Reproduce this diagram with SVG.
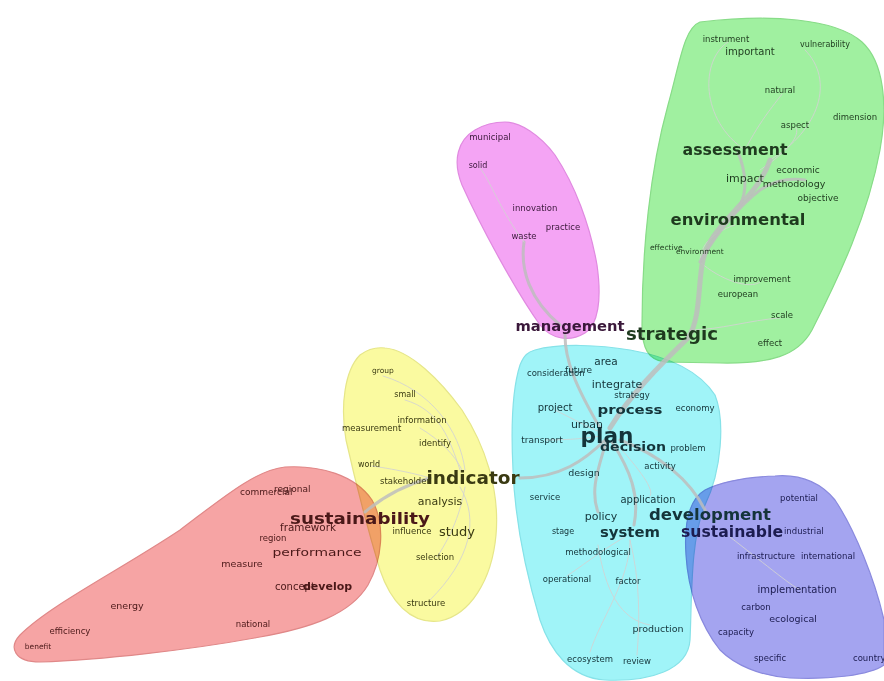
<svg xmlns="http://www.w3.org/2000/svg" width="884" height="681" viewBox="0 0 884 681">
<style>
.blob{mix-blend-mode:multiply;stroke-width:1.2}
.t{font-family:"DejaVu Sans","Liberation Sans",sans-serif;text-anchor:middle}
.st{text-anchor:start}
.en{text-anchor:end}
.b{font-weight:bold}
.g text{fill:#1e3a1e}
.mg text{fill:#3a183a}
.c text{fill:#14343a}
.p text{fill:#1c1c50}
.y text{fill:#3a3a12}
.r text{fill:#4a1818}
.e{fill:none;stroke:#bdbdbd;stroke-linecap:round;opacity:0.85}
.e1{stroke-width:1;stroke:#d2d2d2}
.e3{stroke-width:3}
.e5{stroke-width:5}
</style>
<rect width="884" height="681" fill="#ffffff"/>
<g id="blobs">
<path id="blob-green" class="blob" fill="#a0f0a0" stroke="#88dc88" d="M700,22 C770,14 835,18 862,42 C884,62 888,105 880,150 C868,215 840,275 812,330 C798,356 770,364 720,363 L665,362 C648,360 642,348 642,325 C642,250 650,170 668,105 C680,62 684,28 700,22 Z"/>
<path id="blob-magenta" class="blob" fill="#f4a4f4" stroke="#e08ae0" d="M505,122 C520,122 540,135 555,155 C575,185 590,225 597,265 C602,300 598,325 585,333 C570,342 552,340 540,325 C515,290 480,225 462,185 C452,160 458,140 475,130 C485,124 495,122 505,122 Z"/>
<path id="blob-cyan" class="blob" fill="#a0f4f8" stroke="#86e2e8" d="M535,350 C560,343 600,345 630,350 C670,357 700,372 715,395 C725,420 722,470 705,505 C690,540 692,600 690,640 C688,670 650,682 605,680 C570,678 550,650 540,620 C525,570 515,520 513,470 C511,430 512,390 520,365 C524,355 528,352 535,350 Z"/>
<path id="blob-purple" class="blob" fill="#a4a4f0" stroke="#8a8ade" d="M775,476 C800,474 820,482 835,500 C855,530 875,580 884,620 L884,665 C870,675 830,680 790,678 C760,676 735,665 720,650 C700,625 688,590 686,555 C684,525 688,500 705,490 C725,480 750,477 775,476 Z"/>
<path id="blob-yellow" class="blob" fill="#fafaa0" stroke="#e6e68a" d="M385,348 C410,350 440,380 462,410 C485,445 500,490 496,535 C492,580 470,615 440,621 C410,625 390,600 380,570 C368,530 355,480 346,440 C340,405 345,370 360,355 C368,349 376,347 385,348 Z"/>
<path id="blob-red" class="blob" fill="#f6a4a4" stroke="#e08888" d="M285,467 C320,465 355,475 372,500 C386,525 382,560 368,585 C350,615 310,628 260,637 C190,650 100,660 40,662 C15,662 8,648 20,635 C50,605 120,570 180,530 C220,500 255,470 285,467 Z"/>
</g>
<g id="connectors">
<path class="e e1" d="M745,150 C700,120 700,60 728,42"/>
<path class="e e1" d="M770,160 C820,130 835,80 805,50"/>
<path class="e e1" d="M745,150 C760,120 778,100 782,94"/>
<path class="e e1" d="M760,170 C790,150 800,135 796,128"/>
<path class="e e1" d="M700,262 C720,280 750,290 760,282"/>
<path class="e e1" d="M690,330 C720,330 750,320 780,318"/>
<path class="e e1" d="M700,262 C700,240 720,230 735,225"/>
<path class="e e5" d="M610,428 C630,395 660,365 688,338 C700,320 698,290 702,265 C706,240 722,225 740,205 C755,190 765,175 770,160"/>
<path class="e e3" d="M700,262 C715,235 740,205 760,190 C775,180 790,178 805,180"/>
<path class="e e3" d="M740,205 C748,190 745,170 738,152"/>
<path class="e e3" d="M524,242 C520,270 530,300 560,325"/>
<path class="e e1" d="M524,242 C500,210 490,180 480,168"/>
<path class="e e3" d="M565,335 C565,360 575,385 600,428"/>
<path class="e e3" d="M520,478 C560,478 585,460 605,440"/>
<path class="e e3" d="M365,512 C385,495 405,485 430,478"/>
<path class="e e1" d="M383,376 C430,390 460,430 465,470"/>
<path class="e e1" d="M405,400 C440,410 450,440 460,470"/>
<path class="e e1" d="M420,428 C440,440 455,455 462,470"/>
<path class="e e1" d="M460,487 C480,520 470,560 430,600"/>
<path class="e e1" d="M437,557 C455,530 462,505 465,487"/>
<path class="e e1" d="M372,466 C400,470 420,475 430,478"/>
<path class="e e3" d="M620,440 C660,455 690,480 705,510"/>
<path class="e e3" d="M606,442 C598,470 590,490 598,512"/>
<path class="e e3" d="M612,442 C630,470 640,495 634,525"/>
<path class="e e1" d="M615,442 C640,470 655,490 650,496"/>
<path class="e e1" d="M545,440 C570,440 590,438 600,436"/>
<path class="e e1" d="M598,545 C605,590 620,620 650,625"/>
<path class="e e1" d="M630,540 C630,580 600,620 590,652"/>
<path class="e e1" d="M630,540 C640,580 640,620 637,655"/>
<path class="e e1" d="M567,576 C590,560 610,545 625,537"/>
<path class="e e1" d="M730,537 C760,560 790,585 800,590"/>
<path class="e e1" d="M555,410 C575,420 590,428 600,432"/>
</g>
<g class="g t">
<g id="n-instrument"><text x="726" y="42" font-size="8.5">instrument</text></g>
<g id="n-important"><text x="750" y="55" font-size="10">important</text></g>
<g id="n-vulnerability"><text x="825" y="47" font-size="8">vulnerability</text></g>
<g id="n-natural"><text x="780" y="93" font-size="8.5">natural</text></g>
<g id="n-dimension"><text class="st" x="833" y="120" font-size="8.5">dimension</text></g>
<g id="n-aspect"><text x="795" y="128" font-size="8.5">aspect</text></g>
<g id="n-assessment"><text class="b" x="735" y="155" font-size="15" textLength="105" lengthAdjust="spacingAndGlyphs">assessment</text></g>
<g id="n-impact"><text x="745" y="182" font-size="11">impact</text></g>
<g id="n-economic"><text x="798" y="173" font-size="9">economic</text></g>
<g id="n-methodology"><text x="794" y="187" font-size="9.5">methodology</text></g>
<g id="n-objective"><text x="818" y="201" font-size="9">objective</text></g>
<g id="n-environmental"><text class="b" x="738" y="225" font-size="15.5" textLength="135" lengthAdjust="spacingAndGlyphs">environmental</text></g>
<g id="n-effective"><text class="st" x="650" y="250" font-size="7.5">effective</text></g>
<g id="n-environment"><text class="st" x="676" y="254" font-size="7.5">environment</text></g>
<g id="n-improvement"><text x="762" y="282" font-size="8.5">improvement</text></g>
<g id="n-european"><text x="738" y="297" font-size="8.5">european</text></g>
<g id="n-scale"><text x="782" y="318" font-size="8.5">scale</text></g>
<g id="n-effect"><text x="770" y="346" font-size="8.5">effect</text></g>
<g id="n-strategic"><text class="b" x="672" y="340" font-size="17" textLength="92" lengthAdjust="spacingAndGlyphs">strategic</text></g>
</g>
<g class="mg t">
<g id="n-municipal"><text x="490" y="140" font-size="8.5">municipal</text></g>
<g id="n-solid"><text x="478" y="168" font-size="8">solid</text></g>
<g id="n-innovation"><text x="535" y="211" font-size="8.5">innovation</text></g>
<g id="n-practice"><text x="563" y="230" font-size="8.5">practice</text></g>
<g id="n-waste"><text x="524" y="239" font-size="8.5">waste</text></g>
<g id="n-management"><text class="b" x="570" y="331" font-size="13.5" textLength="109" lengthAdjust="spacingAndGlyphs">management</text></g>
</g>
<g class="c t">
<g id="n-area"><text x="606" y="365" font-size="10.5">area</text></g>
<g id="n-consideration"><text class="st" x="527" y="376" font-size="8.5">consideration</text></g>
<g id="n-future"><text class="st" x="565" y="373" font-size="9">future</text></g>
<g id="n-integrate"><text x="617" y="388" font-size="11">integrate</text></g>
<g id="n-strategy"><text x="632" y="398" font-size="8.5">strategy</text></g>
<g id="n-project"><text x="555" y="411" font-size="10">project</text></g>
<g id="n-process"><text class="b" x="630" y="414" font-size="13" textLength="65" lengthAdjust="spacingAndGlyphs">process</text></g>
<g id="n-economy"><text x="695" y="411" font-size="8.5">economy</text></g>
<g id="n-urban"><text x="587" y="428" font-size="11">urban</text></g>
<g id="n-plan"><text class="b" x="607" y="443" font-size="22" textLength="53" lengthAdjust="spacingAndGlyphs">plan</text></g>
<g id="n-transport"><text x="542" y="443" font-size="9">transport</text></g>
<g id="n-decision"><text class="b" x="633" y="451" font-size="13" textLength="66" lengthAdjust="spacingAndGlyphs">decision</text></g>
<g id="n-problem"><text x="688" y="451" font-size="8.5">problem</text></g>
<g id="n-activity"><text x="660" y="469" font-size="8.5">activity</text></g>
<g id="n-design"><text x="584" y="476" font-size="9.5">design</text></g>
<g id="n-service"><text x="545" y="500" font-size="8.5">service</text></g>
<g id="n-application"><text x="648" y="503" font-size="10">application</text></g>
<g id="n-policy"><text x="601" y="520" font-size="11">policy</text></g>
<g id="n-development"><text class="b" x="710" y="520" font-size="16.5" textLength="122" lengthAdjust="spacingAndGlyphs">development</text></g>
<g id="n-stage"><text x="563" y="534" font-size="8">stage</text></g>
<g id="n-system"><text class="b" x="630" y="537" font-size="14" textLength="60" lengthAdjust="spacingAndGlyphs">system</text></g>
<g id="n-methodological"><text x="598" y="555" font-size="8.5">methodological</text></g>
<g id="n-operational"><text x="567" y="582" font-size="8.5">operational</text></g>
<g id="n-factor"><text x="628" y="584" font-size="8.5">factor</text></g>
<g id="n-production"><text x="658" y="632" font-size="9.5">production</text></g>
<g id="n-ecosystem"><text x="590" y="662" font-size="8.5">ecosystem</text></g>
<g id="n-review"><text x="637" y="664" font-size="8.5">review</text></g>
</g>
<g class="p t">
<g id="n-potential"><text x="799" y="501" font-size="8.5">potential</text></g>
<g id="n-industrial"><text class="st" x="784" y="534" font-size="8.5">industrial</text></g>
<g id="n-sustainable"><text class="b" x="732" y="537" font-size="15" textLength="102" lengthAdjust="spacingAndGlyphs">sustainable</text></g>
<g id="n-infrastructure"><text class="st" x="737" y="559" font-size="8.5">infrastructure</text></g>
<g id="n-international"><text class="en" x="855" y="559" font-size="8.5">international</text></g>
<g id="n-implementation"><text x="797" y="593" font-size="10">implementation</text></g>
<g id="n-carbon"><text x="756" y="610" font-size="8.5">carbon</text></g>
<g id="n-ecological"><text x="793" y="622" font-size="9.5">ecological</text></g>
<g id="n-capacity"><text x="736" y="635" font-size="8.5">capacity</text></g>
<g id="n-specific"><text x="770" y="661" font-size="8.5">specific</text></g>
<g id="n-country"><text class="st" x="853" y="661" font-size="8.5">country</text></g>
</g>
<g class="y t">
<g id="n-group"><text x="383" y="373" font-size="7.5">group</text></g>
<g id="n-small"><text x="405" y="397" font-size="8">small</text></g>
<g id="n-information"><text x="422" y="423" font-size="8.5">information</text></g>
<g id="n-measurement"><text class="st" x="342" y="431" font-size="8.5">measurement</text></g>
<g id="n-identify"><text x="435" y="446" font-size="8.5">identify</text></g>
<g id="n-world"><text x="369" y="467" font-size="8">world</text></g>
<g id="n-stakeholder"><text class="st" x="380" y="484" font-size="8.5">stakeholder</text></g>
<g id="n-indicator"><text class="b" x="473" y="484" font-size="17" textLength="93" lengthAdjust="spacingAndGlyphs">indicator</text></g>
<g id="n-analysis"><text x="440" y="505" font-size="11">analysis</text></g>
<g id="n-influence"><text x="412" y="534" font-size="8.5">influence</text></g>
<g id="n-study"><text x="457" y="536" font-size="13">study</text></g>
<g id="n-selection"><text x="435" y="560" font-size="8.5">selection</text></g>
<g id="n-structure"><text x="426" y="606" font-size="8.5">structure</text></g>
</g>
<g class="r t">
<g id="n-commercial"><text class="st" x="240" y="495" font-size="9">commercial</text></g>
<g id="n-regional"><text class="st" x="274" y="492" font-size="9">regional</text></g>
<g id="n-framework"><text class="st" x="280" y="531" font-size="10.5" textLength="56" lengthAdjust="spacingAndGlyphs">framework</text></g>
<g id="n-sustainability"><text class="b" x="360" y="524" font-size="16" textLength="140" lengthAdjust="spacingAndGlyphs">sustainability</text></g>
<g id="n-region"><text x="273" y="541" font-size="8.5">region</text></g>
<g id="n-performance"><text x="317" y="556" font-size="11" textLength="89" lengthAdjust="spacingAndGlyphs">performance</text></g>
<g id="n-measure"><text x="242" y="567" font-size="9.5">measure</text></g>
<g id="n-concept"><text class="st" x="275" y="590" font-size="10">concept</text></g>
<g id="n-develop"><text class="st b" x="303" y="590" font-size="11">develop</text></g>
<g id="n-energy"><text x="127" y="609" font-size="9.5">energy</text></g>
<g id="n-efficiency"><text x="70" y="634" font-size="8.5">efficiency</text></g>
<g id="n-national"><text x="253" y="627" font-size="8.5">national</text></g>
<g id="n-benefit"><text x="38" y="649" font-size="7.5">benefit</text></g>
</g>
</svg>
